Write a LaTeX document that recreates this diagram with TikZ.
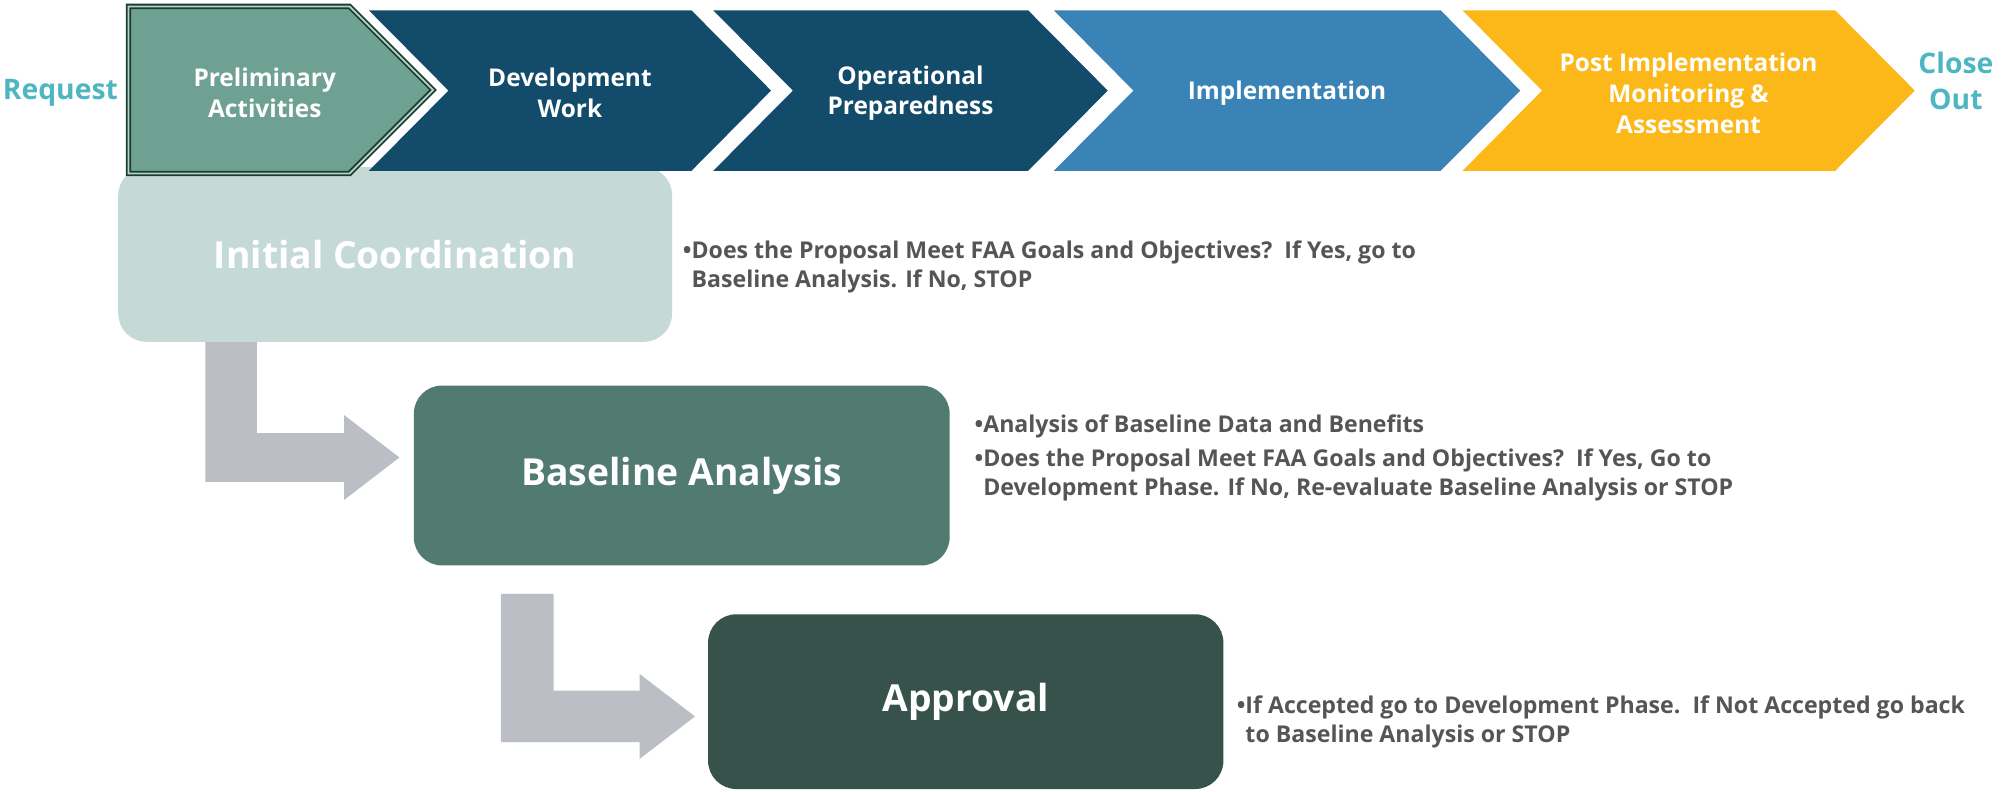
\documentclass[tikz,border=0pt]{standalone}
\usepackage{fontspec}
\setmainfont{Open Sans}
\usepackage{tikz}
\usetikzlibrary{positioning, calc}
\definecolor{faanavy}{RGB}{19,75,107}
\definecolor{faablue}{RGB}{58,131,182}
\definecolor{faagold}{RGB}{251,184,24}
\definecolor{faasage}{RGB}{111,161,147}
\definecolor{faapine}{RGB}{24,62,48}
\definecolor{faateal}{RGB}{77,182,194}
\definecolor{faamist}{RGB}{197,218,214}
\definecolor{faamoss}{RGB}{81,122,112}
\definecolor{faaforest}{RGB}{55,82,74}
\definecolor{faagrey}{RGB}{187,190,196}
\definecolor{faatext}{RGB}{85,85,85}

\begin{document}
\begin{tikzpicture}[
  x=1pt, y=1pt,
  stagetext/.style={text=white, font=\bfseries\fontsize{19}{24}\selectfont, align=center},
  endlabel/.style={text=faateal, font=\bfseries\fontsize{22}{28}\selectfont, align=center},
  phasebox/.style={rectangle, rounded corners=22pt, text=white, font=\bfseries\fontsize{29}{34}\selectfont},
  notetext/.style={text=faatext, font=\bfseries\fontsize{18}{22.5}\selectfont, align=left, inner sep=0pt},
  flowarrow/.style={fill=faagrey},
]
  \useasboundingbox (0,0) rectangle (1568,616);

  % phase boxes
  \node[phasebox, fill=faamist, minimum width=431pt, minimum height=136pt] (initcoord) at (307.5,418) {Initial Coordination};
  \node[phasebox, fill=faamoss, minimum width=417pt, minimum height=140pt] (baseline) at (530.5,246) {Baseline Analysis};
  \node[phasebox, fill=faaforest, minimum width=401pt, minimum height=136pt] (approval) at (751.5,70) {Approval};

  % process banner
  \fill[faasage, draw=faapine, line width=1.4pt, double=faasage!50!white, double distance=1.4pt]
    (100,611) -- (272,611) -- (337,546) -- (272,481) -- (100,481) -- cycle;
  \node[stagetext] (prelim) at (206,544) {Preliminary\\Activities};
  \foreach \xl/\xr/\col/\nm/\txt in {
      287/538/faanavy/devwork/{Development\\Work},
      555/800/faanavy/opprep/{Operational\\Preparedness},
      820/1121/faablue/implement/{Implementation},
      1138/1428/faagold/postimpl/{Post Implementation\\Monitoring \&\\Assessment}} {
    \fill[\col] (\xl,608) -- (\xr,608) -- (\xr+62,545.5) -- (\xr,483) -- (\xl,483) -- (\xl+62,545.5) -- cycle;
    \node[stagetext] (\nm) at ({(\xl+\xr+62)/2},543.5) {\txt};
  }
  \node[endlabel] (request) at (47,544) {Request};
  \node[endlabel] (closeout) at (1522,553) {Close\\Out};

  % notes
  \node[notetext, anchor=west, right=8pt of initcoord, yshift=-10pt] (note1)
    {\textbullet Does the Proposal Meet FAA Goals and Objectives?\ \ If Yes, go to\\
     \phantom{\textbullet}Baseline Analysis. If No, STOP};
  \node[notetext, anchor=west, right=19pt of baseline, yshift=14pt] (note2)
    {\textbullet Analysis of Baseline Data and Benefits\\[4pt]
     \textbullet Does the Proposal Meet FAA Goals and Objectives?\ \ If Yes, Go to\\
     \phantom{\textbullet}Development Phase. If No, Re-evaluate Baseline Analysis or STOP};
  \node[notetext, anchor=west, right=10pt of approval, yshift=-16pt] (note3)
    {\textbullet If Accepted go to Development Phase.\ \ If Not Accepted go back\\
     \phantom{\textbullet}to Baseline Analysis or STOP};

  % elbow arrows
  \coordinate (arrowatop) at ($(initcoord.south west)+(68,0)$);
  \coordinate (arrowatip) at ($(baseline.west)+(-11,14)$);
  \coordinate (arrowbtop) at ($(baseline.south west)+(68,-22)$);
  \coordinate (arrowbtip) at ($(approval.west)+(-10,-11.5)$);
  \fill[flowarrow] let \p1=(arrowatop), \p2=(arrowatip) in
    (\x1,\y1) -- (\x1+40pt,\y1) -- (\x1+40pt,\y2+19pt) -- (\x2-43pt,\y2+19pt)
    -- (\x2-43pt,\y2+33pt) -- (\x2,\y2) -- (\x2-43pt,\y2-33pt)
    -- (\x2-43pt,\y2-19pt) -- (\x1,\y2-19pt) -- cycle;
  \fill[flowarrow] let \p1=(arrowbtop), \p2=(arrowbtip) in
    (\x1,\y1) -- (\x1+41pt,\y1) -- (\x1+41pt,\y2+20pt) -- (\x2-43pt,\y2+20pt)
    -- (\x2-43pt,\y2+33pt) -- (\x2,\y2) -- (\x2-43pt,\y2-33pt)
    -- (\x2-43pt,\y2-20pt) -- (\x1,\y2-20pt) -- cycle;
\end{tikzpicture}
\end{document}
